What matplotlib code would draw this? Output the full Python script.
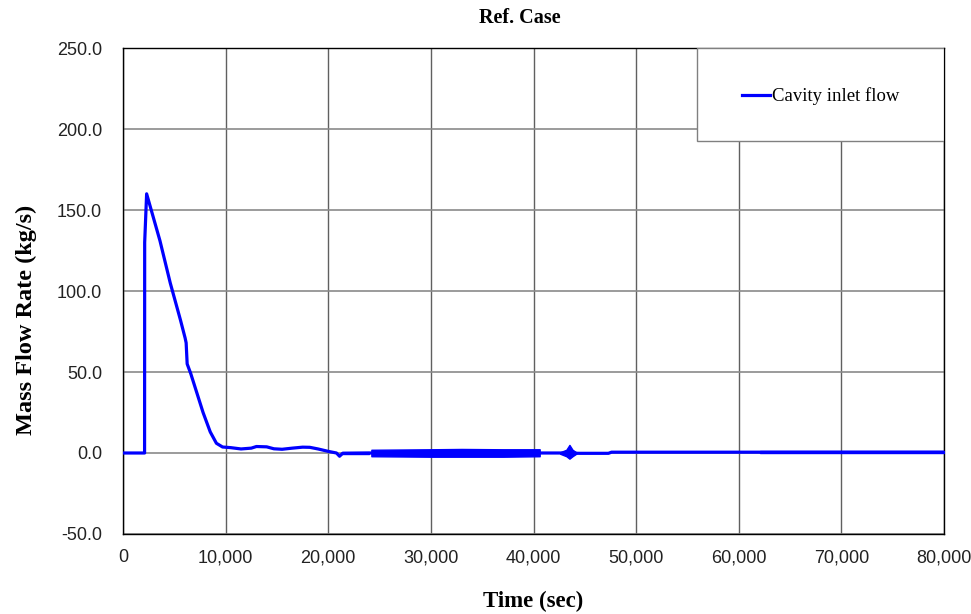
import matplotlib
matplotlib.use("Agg")
import matplotlib.pyplot as plt
from matplotlib.patches import Rectangle
from matplotlib.ticker import FuncFormatter

# ---- data ----
time_s = [0, 2100, 2110, 2300, 3600, 4600, 5600, 6050, 6150, 6250, 6600, 7200,
          7800, 8500, 9100, 9700, 10500, 11500, 12500, 13000, 14000, 14700,
          15500, 16500, 17500, 18200, 19000, 20000, 20800, 21100, 21400,
          24000, 40600, 42500, 44500, 47300, 47600, 80000]
flow = [0, 0, 130, 160, 131, 105, 82, 71, 68, 55, 49, 37,
        25, 13, 6, 3.7, 3.3, 2.5, 3.0, 4.0, 3.8, 2.6,
        2.3, 3.0, 3.6, 3.5, 2.5, 1.0, 0.0, -2.0, -0.2,
        0.0, 0.0, 0.0, -0.2, -0.2, 0.5, 0.5]

# envelopes of the oscillating stretches
band1_t = [21300, 24000]
band1_hi = [0.9, 0.9]
band1_lo = [-0.9, -0.9]
band2_t = [24200, 30000, 33000, 37000, 40600]
band2_hi = [2.0, 2.3, 2.5, 2.3, 2.3]
band2_lo = [-2.0, -2.3, -2.3, -2.3, -2.0]
band3_t = [42600, 43200, 43500, 43800, 44200]
band3_hi = [0.5, 2.0, 5.0, 2.0, 0.3]
band3_lo = [-0.5, -2.0, -3.5, -2.0, -0.3]
band4_t = [62100, 80000]
band4_hi = [1.0, 1.0]
band4_lo = [-0.2, -0.2]

x_ticks = [0, 10000, 20000, 30000, 40000, 50000, 60000, 70000, 80000]
y_ticks = [-50, 0, 50, 100, 150, 200, 250]

title = "Ref. Case"
xlabel = "Time (sec)"
ylabel = "Mass Flow Rate (kg/s)"
series_label = "Cavity inlet flow"

blue = "#0000FF"

fig = plt.figure(figsize=(9.71, 6.14), dpi=100)
ax = fig.add_axes([0.1267, 0.1303, 0.8455, 0.7915])

ax.plot(time_s, flow, color=blue, lw=2.3, label=series_label, zorder=3,
        solid_joinstyle="round")
for bt, bh, bl in [(band1_t, band1_hi, band1_lo), (band2_t, band2_hi, band2_lo),
                   (band3_t, band3_hi, band3_lo), (band4_t, band4_hi, band4_lo)]:
    ax.fill_between(bt, bl, bh, color=blue, lw=1.0, edgecolor=blue, zorder=3)

ax.set_xlim(0, 80000)
ax.set_ylim(-50, 250)
ax.set_xticks(x_ticks)
ax.set_yticks(y_ticks)
ax.xaxis.set_major_formatter(FuncFormatter(lambda v, p: f"{int(v):,}"))
ax.yaxis.set_major_formatter(FuncFormatter(lambda v, p: f"{v:.1f}"))
ax.tick_params(length=0, labelsize=13)
ax.tick_params(axis="y", pad=15)
ax.tick_params(axis="x", pad=11)
for lab in ax.get_xticklabels() + ax.get_yticklabels():
    lab.set_fontfamily("Liberation Sans")
    lab.set_color("#222222")

ax.grid(True, axis="x", color="#606060", lw=1.0)
ax.grid(True, axis="y", color="#8a8a8a", lw=1.2)
ax.set_axisbelow(True)
for s in ax.spines.values():
    s.set_color("black")
    s.set_linewidth(1.0)

ax.set_title(title, fontsize=14.5, fontweight="bold", family="Liberation Serif",
             pad=18, x=0.4836)
ax.set_xlabel(xlabel, fontsize=16.5, fontweight="bold", family="Liberation Serif")
ax.xaxis.set_label_coords(0.5, -0.161)
ax.xaxis.label.set_va("bottom")
ax.set_ylabel(ylabel, fontsize=17.5, fontweight="bold", family="Liberation Serif")
ax.yaxis.set_label_coords(-0.105, 0.44)

# legend box
box = Rectangle((0.699, 0.809), 0.301, 0.191, transform=ax.transAxes,
                facecolor="white", edgecolor="#808080", lw=1.0, zorder=5)
ax.add_patch(box)
leg = ax.legend(loc="center", bbox_to_anchor=(0.8495, 0.901), frameon=False,
                prop={"family": "Liberation Serif", "size": 13.5},
                handlelength=1.5, handletextpad=0.1)
leg.set_zorder(6)

fig.savefig("out.png", dpi=100)
